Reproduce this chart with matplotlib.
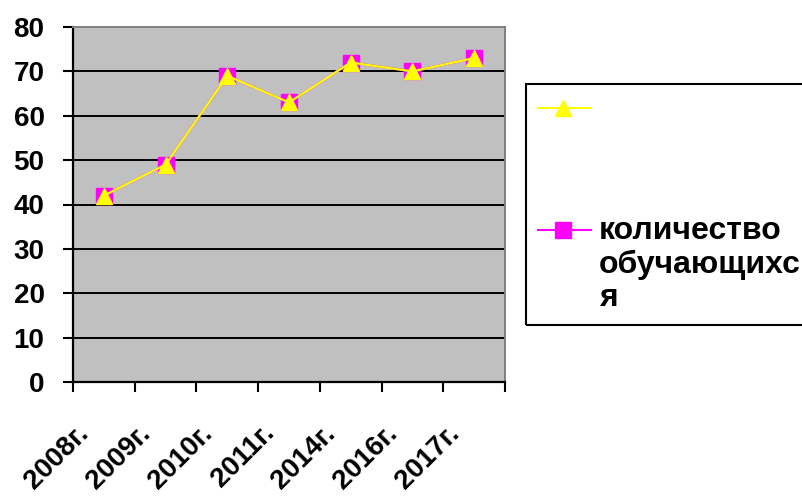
import matplotlib
matplotlib.use("Agg")
import matplotlib.pyplot as plt
from matplotlib.lines import Line2D
from matplotlib.patches import Rectangle
from matplotlib.transforms import ScaledTranslation
import numpy as np

plt.rcParams['font.family'] = ['Liberation Sans', 'DejaVu Sans']
plt.rcParams['font.weight'] = 'bold'

years = ['2008г.', '2009г.', '2010г.', '2011г.', '2014г.', '2016г.', '2017г.']
students = [42, 49, 69, 63, 72, 70, 73]
series_label = 'количество\nобучающихс\nя'

W, H = 803, 497
fig = plt.figure(figsize=(W / 100, H / 100), dpi=100)
ax = fig.add_axes([73 / W, 115 / H, 432 / W, 355 / H])
ax.set_facecolor('#C0C0C0')

pos = np.arange(len(years)) + 0.5
ax.plot(pos, students, color='#FF00FF', lw=1.6, marker='s', ms=11,
        mfc='#FF00FF', mec='#FF00FF', zorder=3, clip_on=False)
ax.plot(pos, students, color='#FFFF00', lw=1.6, marker='^', ms=12,
        mfc='#FFFF00', mec='#FFFF00', zorder=4, clip_on=False)

ax.set_xlim(0, len(years))
ax.set_ylim(0, 80)
ax.set_yticks(range(0, 81, 10))
ax.set_xticks(np.arange(len(years) + 1))
ax.set_xticklabels([])
ax.set_xticks(pos, minor=True)
ax.set_xticklabels(years, minor=True)

for y in range(10, 80, 10):
    ax.axhline(y, color='black', lw=1.4, zorder=1)

for s in ['top', 'right']:
    ax.spines[s].set_color('#808080')
    ax.spines[s].set_linewidth(1.4)
for s in ['left', 'bottom']:
    ax.spines[s].set_color('black')
    ax.spines[s].set_linewidth(1.6)

ax.tick_params(axis='both', which='major', direction='out', length=7.5,
               width=1.5, color='black')
ax.tick_params(axis='y', labelsize=20, pad=13)
ax.tick_params(axis='x', which='minor', length=0, labelsize=20, pad=34)

off = ScaledTranslation(-19 / 100, 0, fig.dpi_scale_trans)
for lab in ax.get_xticklabels(minor=True):
    lab.set_rotation(45)
    lab.set_ha('right')
    lab.set_va('center')
    lab.set_rotation_mode('anchor')
    lab.set_transform(lab.get_transform() + off)

# legend drawn by hand, box runs off the right edge like the original
def fx(px):
    return px / W

def fy(py):
    return 1 - py / H

fig.patches.append(Rectangle((fx(526), fy(325)), fx(320), 241 / H,
                             transform=fig.transFigure, fill=False,
                             ec='black', lw=1.5))
fig.add_artist(Line2D([fx(538), fx(591)], [fy(108), fy(108)], color='#FFFF00',
                      lw=1.5, transform=fig.transFigure))
fig.add_artist(Line2D([fx(563)], [fy(108)], color='#FFFF00', marker='^', ms=12,
                      transform=fig.transFigure))
fig.add_artist(Line2D([fx(538), fx(591)], [fy(230), fy(230)], color='#FF00FF',
                      lw=1.5, transform=fig.transFigure))
fig.add_artist(Line2D([fx(563)], [fy(230)], color='#FF00FF', marker='s', ms=11,
                      transform=fig.transFigure))
fig.text(fx(599), fy(216), series_label, fontsize=23, fontweight='bold',
         va='top', ha='left', linespacing=1.15)

fig.savefig('out.png', dpi=100)
